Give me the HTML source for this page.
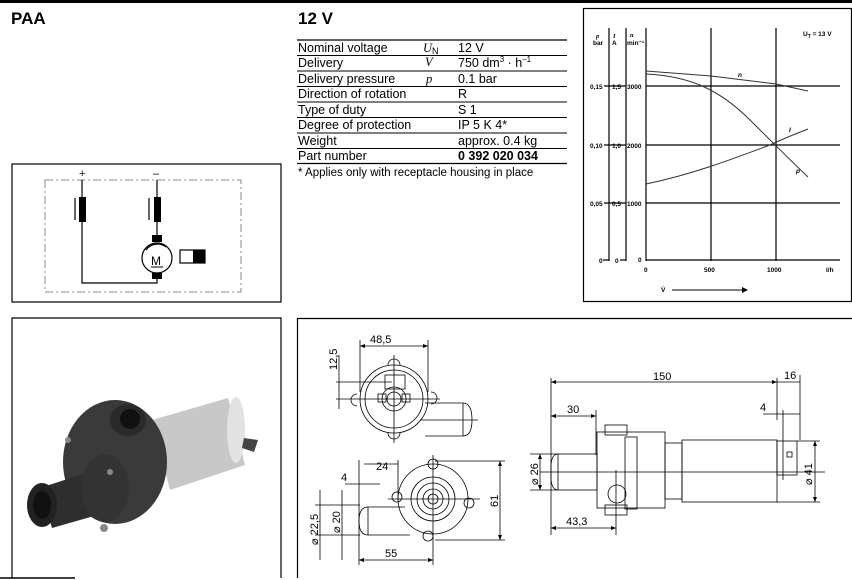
<!DOCTYPE html>
<html><head><meta charset="utf-8"><style>
html,body{margin:0;padding:0;background:#fff;}
svg{display:block;font-family:"Liberation Sans",sans-serif;}
</style></head><body>
<svg width="852" height="580" viewBox="0 0 852 580" xmlns="http://www.w3.org/2000/svg">
<rect x="0" y="0" width="852" height="3" fill="#000"/>
<text x="11" y="24" font-size="17" font-weight="bold">PAA</text>
<text x="298" y="24" font-size="17" font-weight="bold">12 V</text>

<!-- table -->
<g font-size="12.5" fill="#000">
<line x1="297" y1="40" x2="567" y2="40" stroke="#000" stroke-width="1.3"/>
<g stroke="#000" stroke-width="0.9">
<line x1="297" y1="55.5" x2="567" y2="55.5"/><line x1="297" y1="71" x2="567" y2="71"/>
<line x1="297" y1="86.5" x2="567" y2="86.5"/><line x1="297" y1="102" x2="567" y2="102"/>
<line x1="297" y1="117.5" x2="567" y2="117.5"/><line x1="297" y1="133" x2="567" y2="133"/>
<line x1="297" y1="148.5" x2="567" y2="148.5"/></g>
<line x1="297" y1="163.5" x2="567" y2="163.5" stroke="#000" stroke-width="1.3"/>
<text x="298" y="52">Nominal voltage</text><text x="423" y="52" font-family="Liberation Serif" font-style="italic">U<tspan font-size="9" font-style="normal" font-family="Liberation Sans" dy="2">N</tspan></text><text x="458" y="52">12 V</text>
<text x="298" y="67">Delivery</text><text x="425" y="66" font-family="Liberation Serif" font-style="italic">V</text><text x="458" y="67">750 dm<tspan font-size="8" dy="-5">3</tspan><tspan dy="5"> · h</tspan><tspan font-size="8" dy="-5">–1</tspan></text>
<text x="298" y="83">Delivery pressure</text><text x="426" y="83" font-family="Liberation Serif" font-style="italic">p</text><text x="458" y="83">0.1 bar</text>
<text x="298" y="98">Direction of rotation</text><text x="458" y="98">R</text>
<text x="298" y="114">Type of duty</text><text x="458" y="114">S 1</text>
<text x="298" y="129">Degree of protection</text><text x="458" y="129">IP 5 K 4*</text>
<text x="298" y="145">Weight</text><text x="458" y="145">approx. 0.4 kg</text>
<text x="298" y="160">Part number</text><text x="458" y="160" font-weight="bold">0 392 020 034</text>
<text x="298" y="176" font-size="11.5">* Applies only with receptacle housing in place</text>
</g>

<!-- circuit -->
<rect x="12" y="164" width="269" height="138" fill="none" stroke="#000" stroke-width="1.2"/>
<rect x="45" y="180" width="196" height="112" fill="none" stroke="#888" stroke-dasharray="8,3,2,3"/>
<text x="79" y="177" font-size="11">+</text><text x="153" y="177" font-size="11">–</text>
<g stroke="#000" stroke-width="1.2" fill="none">
<path d="M82 180 V283 H157 V278"/><path d="M157 180 V240"/>
<line x1="75" y1="198" x2="75" y2="220"/><line x1="149" y1="198" x2="149" y2="220"/>
<circle cx="157" cy="258" r="15"/><path d="M146 250 A14 14 0 0 1 166 247"/></g>
<rect x="79" y="197" width="7" height="25" fill="#000"/><rect x="154" y="197" width="7" height="25" fill="#000"/>
<rect x="152" y="235" width="10" height="7" fill="#000"/><rect x="152" y="273" width="10" height="6" fill="#000"/>
<text x="151" y="265" font-size="12">M</text><line x1="151" y1="267" x2="163" y2="267" stroke="#000"/>
<rect x="180" y="250" width="25" height="13" fill="none" stroke="#000" stroke-width="1.2"/><rect x="193" y="250" width="12" height="13" fill="#000"/>

<!-- chart -->
<rect x="583.5" y="8.5" width="268" height="293" fill="none" stroke="#000" stroke-width="1.2"/>
<g stroke="#000" stroke-width="1.2">
<line x1="609" y1="28" x2="609" y2="261"/><line x1="626" y1="28" x2="626" y2="261"/>
<line x1="646" y1="28" x2="646" y2="261"/><line x1="711" y1="28" x2="711" y2="261"/><line x1="776" y1="28" x2="776" y2="261"/>
<line x1="646" y1="86" x2="840" y2="86"/><line x1="646" y1="145" x2="840" y2="145"/><line x1="646" y1="203" x2="840" y2="203"/><line x1="646" y1="260" x2="840" y2="260"/>
<line x1="603" y1="260" x2="609" y2="260"/><line x1="620" y1="260" x2="626" y2="260"/>
<line x1="604" y1="86" x2="626" y2="86"/><line x1="604" y1="145" x2="626" y2="145"/><line x1="604" y1="203" x2="626" y2="203"/>
</g>
<g stroke="#333" stroke-width="1" fill="none">
<path d="M646 71 L711 76 L776 84 L808 91"/>
<path d="M646 74 C690 76 720 90 750 120 C770 140 790 160 808 177"/>
<path d="M646 184 C690 175 730 160 770 145 C785 138 795 134 808 129"/>
</g>
<g font-size="6.5" font-weight="bold">
<text x="596" y="38" font-style="italic" font-family="Liberation Serif">p</text><text x="593" y="45">bar</text>
<text x="613" y="38" font-style="italic" font-family="Liberation Serif">I</text><text x="612" y="45">A</text>
<text x="630" y="37" font-style="italic" font-family="Liberation Serif">n</text><text x="627" y="45">min⁻¹</text>
<text x="590" y="89">0,15</text><text x="612" y="89">1,5</text><text x="627" y="89">3000</text>
<text x="590" y="148">0,10</text><text x="612" y="148">1,0</text><text x="627" y="148">2000</text>
<text x="590" y="206">0,05</text><text x="612" y="206">0,5</text><text x="627" y="206">1000</text>
<text x="599" y="263">0</text><text x="615" y="263">0</text><text x="638" y="262">0</text>
<text x="644" y="272">0</text><text x="704" y="272">500</text><text x="767" y="272">1000</text><text x="826" y="272">l/h</text>
<text x="803" y="36">U<tspan font-size="5" dy="2">T</tspan><tspan dy="-2"> = 13 V</tspan></text>
<text x="738" y="77" font-style="italic">n</text><text x="789" y="132" font-style="italic">I</text><text x="796" y="173" font-style="italic">p</text>
<text x="661" y="292">V̇</text>
</g>
<line x1="672" y1="290" x2="742" y2="290" stroke="#000"/><path d="M742 287 L748 290 L742 293Z" fill="#000"/>

<!-- photo box -->
<path d="M12 578 V318 H281 V578" fill="none" stroke="#000" stroke-width="1.2"/>
<line x1="0" y1="578" x2="75" y2="578" stroke="#000" stroke-width="1.5"/>
<polygon points="152,420 228,398 245,465 170,490" fill="#c8c8c8"/>
<ellipse cx="236" cy="430" rx="9" ry="33" fill="#e2e2e2"/>
<polygon points="244,438 258,440 254,452 242,448" fill="#444"/>
<ellipse cx="115" cy="462" rx="52" ry="62" fill="#3a3a3a"/>
<ellipse cx="128" cy="420" rx="18" ry="16" fill="#2a2a2a"/>
<circle cx="130" cy="419" r="10" fill="#111"/>
<polygon points="40,488 95,470 108,512 52,528" fill="#2e2e2e"/>
<ellipse cx="42" cy="505" rx="15" ry="22" fill="#222"/>
<ellipse cx="42" cy="505" rx="9" ry="14" fill="#111"/>
<ellipse cx="105" cy="488" rx="24" ry="34" fill="#333"/>
<circle cx="104" cy="528" r="4" fill="#888"/><circle cx="110" cy="472" r="3" fill="#888"/><circle cx="68" cy="440" r="3" fill="#888"/>

<!-- drawing box -->
<path d="M297.5 578 V318.5 H852" fill="none" stroke="#000" stroke-width="1.2"/>
<g stroke="#000" stroke-width="0.8" fill="none">
<circle cx="394" cy="399" r="34"/><circle cx="394" cy="399" r="29"/><circle cx="394" cy="399" r="12"/><circle cx="394" cy="399" r="7"/>
<rect x="385" y="375" width="20" height="14"/><rect x="378" y="394" width="8" height="8"/><rect x="402" y="394" width="8" height="8"/>
<path d="M388 365 a5 5 0 0 1 12 0"/><path d="M357 406 a5 5 0 0 1 0 -12"/><path d="M431 392 a5 5 0 0 1 0 12"/><path d="M388 433 a5 5 0 0 0 12 0"/>
<path d="M425 403 H463 M425 436 H463 M463 403 Q472 403 472 420 Q472 436 463 436 Z"/>
<line x1="360" y1="340" x2="360" y2="392"/><line x1="428" y1="340" x2="428" y2="392"/>
<line x1="360" y1="346" x2="428" y2="346"/>
<line x1="336" y1="382" x2="392" y2="382"/><line x1="336" y1="399" x2="440" y2="399"/>
<line x1="339" y1="355" x2="339" y2="409"/>
<line x1="394" y1="355" x2="394" y2="443"/><line x1="420" y1="420" x2="478" y2="420"/>
<circle cx="433" cy="499" r="35"/><circle cx="433" cy="499" r="22"/><circle cx="433" cy="499" r="16"/><circle cx="433" cy="499" r="10"/><circle cx="433" cy="499" r="5"/>
<circle cx="433" cy="464" r="5"/><circle cx="397" cy="497" r="5"/><circle cx="469" cy="503" r="5"/><circle cx="428" cy="536" r="5"/>
<path d="M368 507 H405 M368 535 H410 M368 507 Q359 507 359 521 Q359 535 368 535 Z"/>
<line x1="433" y1="455" x2="433" y2="565"/><line x1="388" y1="499" x2="480" y2="499"/>
<line x1="435" y1="461" x2="505" y2="461"/><line x1="435" y1="540" x2="505" y2="540"/><line x1="500" y1="461" x2="500" y2="540"/>
<line x1="359" y1="460" x2="359" y2="565"/><line x1="398" y1="460" x2="398" y2="500"/>
<line x1="364" y1="464" x2="398" y2="464"/><line x1="345" y1="484" x2="380" y2="484"/><line x1="359" y1="560" x2="433" y2="560"/>
<line x1="320" y1="490" x2="320" y2="560"/><line x1="342" y1="490" x2="342" y2="560"/>
<line x1="315" y1="505" x2="360" y2="505"/><line x1="315" y1="535" x2="360" y2="535"/>
<line x1="551" y1="378" x2="551" y2="535"/><line x1="777" y1="378" x2="777" y2="420"/><line x1="800" y1="375" x2="800" y2="440"/>
<line x1="551" y1="382" x2="777" y2="382"/><line x1="777" y1="382" x2="800" y2="382"/>
<line x1="596" y1="410" x2="596" y2="455"/><line x1="551" y1="416" x2="596" y2="416"/>
<line x1="783" y1="410" x2="783" y2="480"/><line x1="763" y1="414" x2="800" y2="414"/>
<rect x="558" y="454" width="39" height="36"/><path d="M558 454 Q550 454 551 472 Q550 490 558 490"/>
<rect x="597" y="432" width="68" height="76"/><rect x="605" y="425" width="22" height="10"/><rect x="605" y="505" width="22" height="10"/>
<rect x="625" y="437" width="12" height="72"/><circle cx="617" cy="494" r="9"/>
<rect x="665" y="443" width="17" height="56"/>
<rect x="682" y="440" width="95" height="62"/>
<rect x="777" y="441" width="20" height="34"/><rect x="787" y="452" width="5" height="5"/>
<line x1="540" y1="472" x2="825" y2="472"/>
<line x1="530" y1="454" x2="558" y2="454"/><line x1="530" y1="490" x2="558" y2="490"/><line x1="540" y1="454" x2="540" y2="490"/>
<line x1="797" y1="441" x2="820" y2="441"/><line x1="777" y1="502" x2="820" y2="502"/><line x1="815" y1="441" x2="815" y2="502"/>
<line x1="616" y1="470" x2="616" y2="535"/><line x1="551" y1="528" x2="616" y2="528"/>
</g>
<g fill="#000">
<path d="M360 346 l5 -2 v4z M428 346 l-5 -2 v4z M551 382 l5 -2 v4z M777 382 l-5 -2 v4z M551 416 l5 -2 v4z M596 416 l-5 -2 v4z M551 528 l5 -2 v4z M616 528 l-5 -2 v4z M359 560 l5 -2 v4z M433 560 l-5 -2 v4z M500 461 l-2 5 h4z M500 540 l-2 -5 h4z M815 441 l-2 5 h4z M815 502 l-2 -5 h4z M540 454 l-2 5 h4z M540 490 l-2 -5 h4z"/>
</g>
<g font-size="11">
<text x="370" y="343">48,5</text>
<text transform="translate(337,370) rotate(-90)">12,5</text>
<text x="376" y="470">24</text><text x="341" y="481">4</text>
<text x="385" y="557">55</text>
<text transform="translate(498,507) rotate(-90)">61</text>
<text transform="translate(318,545) rotate(-90)">⌀ 22,5</text>
<text transform="translate(340,533) rotate(-90)">⌀ 20</text>
<text x="653" y="380">150</text><text x="784" y="379">16</text>
<text x="567" y="413">30</text><text x="760" y="411">4</text>
<text x="566" y="525">43,3</text>
<text transform="translate(538,485) rotate(-90)">⌀ 26</text>
<text transform="translate(812,485) rotate(-90)">⌀ 41</text>
</g>
</svg>
</body></html>
